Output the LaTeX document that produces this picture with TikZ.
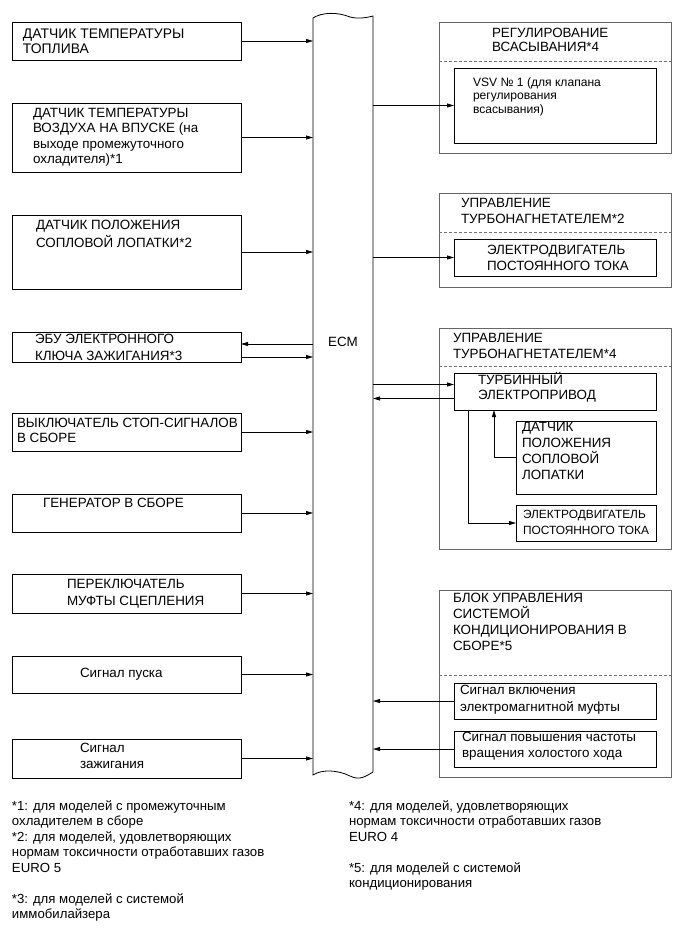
\documentclass[tikz,border=0pt]{standalone}
\usepackage{fontspec}
\setmainfont{Liberation Sans}
\newcommand\fstrut{\rule{0pt}{13pt}}
\usetikzlibrary{arrows.meta}
\begin{document}
\begin{tikzpicture}[x=1pt,y=-1pt,
  box/.style={draw, line width=0.8pt, inner sep=0, outer sep=0, anchor=north west},
  grp/.style={draw=black!60, line width=1pt, inner sep=0, outer sep=0, anchor=north west},
  txt/.style={inner sep=0, outer sep=0, anchor=north west, align=left,
     font=\fontsize{13.4}{15}\selectfont},
  ls/.style={font=\fontsize{13.4}{#1}\selectfont},
  arr/.style={line width=0.8pt, -{Triangle[length=7pt,width=4pt]}},
  sep/.style={draw=black!55, dash pattern=on 3pt off 2pt, line width=0.6pt},
]
\useasboundingbox (0,0) rectangle (691,951);

% ---- left boxes
\node[box, minimum width=229pt, minimum height=38pt] (b1) at (12,22) {};
\node[box, minimum width=229pt, minimum height=69pt] (b2) at (12,103) {};
\node[box, minimum width=229pt, minimum height=74pt] (b3) at (12,215) {};
\node[box, minimum width=229pt, minimum height=30pt] (b4) at (12,332) {};
\node[box, minimum width=229pt, minimum height=38pt] (b5) at (12,413) {};
\node[box, minimum width=229pt, minimum height=38pt] (b6) at (12,494) {};
\node[box, minimum width=229pt, minimum height=39pt] (b7) at (12,574) {};
\node[box, minimum width=229pt, minimum height=37pt] (b8) at (12,656) {};
\node[box, minimum width=229pt, minimum height=39pt] (b9) at (12,739) {};

\node[txt, font=\fontsize{13.9}{15}\selectfont] (t1) at (23,25) {\fstrut ДАТЧИК ТЕМПЕРАТУРЫ\\ТОПЛИВА};
\node[txt, ls=15.3] (t2) at (33,104.5) {\fstrut ДАТЧИК ТЕМПЕРАТУРЫ\\ВОЗДУХА НА ВПУСКЕ (на\\выходе промежуточного\\охладителя)*1};
\node[txt, ls=18] (t3) at (36,216) {\fstrut ДАТЧИК ПОЛОЖЕНИЯ\\СОПЛОВОЙ ЛОПАТКИ*2};
\node[txt, ls=17] (t4) at (35,330) {\fstrut ЭБУ ЭЛЕКТРОННОГО\\КЛЮЧА ЗАЖИГАНИЯ*3};
\node[txt, ls=15] (t5) at (17,414) {\fstrut ВЫКЛЮЧАТЕЛЬ СТОП-СИГНАЛОВ\\В СБОРЕ};
\node[txt] (t6) at (43,494) {\fstrut ГЕНЕРАТОР В СБОРЕ};
\node[txt, ls=17] (t7) at (67,575) {\fstrut ПЕРЕКЛЮЧАТЕЛЬ\\МУФТЫ СЦЕПЛЕНИЯ};
\node[txt] (t8) at (80,664) {\fstrut Сигнал пуска};
\node[txt, ls=16] (t9) at (80,739) {\fstrut Сигнал\\зажигания};

% ---- ECM
\node[inner sep=0, outer sep=0, anchor=north west, minimum width=60pt, minimum height=760pt] (ecm) at (313,16) {};
\draw[line width=0.8pt] (313,18) -- (313,775)
  .. controls (322,769) and (338,770) .. (350,776)
  .. controls (360,781) and (366,776) .. (373,772)
  -- (373,16)
  .. controls (366,18) and (358,19) .. (350,17)
  .. controls (338,12) and (322,12) .. (313,18) -- cycle;
\node[inner sep=0, anchor=base, font=\fontsize{13.4}{15}\selectfont] (ecml) at (343,346) {ECM};

% ---- right groups
\node[grp, minimum width=232pt, minimum height=131pt] (g1) at (439,22) {};
\node[grp, minimum width=232pt, minimum height=94pt] (g2) at (439,193) {};
\node[grp, minimum width=232pt, minimum height=221pt] (g3) at (439,328) {};
\node[grp, minimum width=232pt, minimum height=187pt] (g4) at (439,590) {};

\draw[sep] (g1.west |- 0,61) -- (g1.east |- 0,61);
\draw[sep] (g2.west |- 0,232) -- (g2.east |- 0,232);
\draw[sep] (g3.west |- 0,366) -- (g3.east |- 0,366);
\draw[sep] (g4.west |- 0,675) -- (g4.east |- 0,675);

\node[box, minimum width=202pt, minimum height=75pt] (g1i) at (454,68) {};
\node[box, minimum width=202pt, minimum height=37pt] (g2i) at (454,239) {};
\node[box, minimum width=202pt, minimum height=37pt] (g3a) at (454,373) {};
\node[box, minimum width=140pt, minimum height=73pt] (g3b) at (516,421) {};
\node[box, minimum width=140pt, minimum height=36pt] (g3c) at (516,505) {};
\node[box, minimum width=202pt, minimum height=36pt] (g4a) at (454,683) {};
\node[box, minimum width=202pt, minimum height=36pt] (g4b) at (454,731) {};

\node[txt, ls=14] (g1t) at (492,24) {\fstrut РЕГУЛИРОВАНИЕ\\ВСАСЫВАНИЯ*4};
\node[txt, font=\fontsize{12.1}{13.5}\selectfont] (g1it) at (473,73) {\fstrut VSV № 1 (для клапана\\регулирования\\всасывания)};
\node[txt, ls=16] (g2t) at (461,194) {\fstrut УПРАВЛЕНИЕ\\ТУРБОНАГНЕТАТЕЛЕМ*2};
\node[txt, ls=16.5] (g2it) at (487,241) {\fstrut ЭЛЕКТРОДВИГАТЕЛЬ\\ПОСТОЯННОГО ТОКА};
\node[txt, ls=16] (g3t) at (453,329) {\fstrut УПРАВЛЕНИЕ\\ТУРБОНАГНЕТАТЕЛЕМ*4};
\node[txt, ls=15] (g3at) at (478,371) {\fstrut ТУРБИННЫЙ\\ЭЛЕКТРОПРИВОД};
\node[txt, ls=16] (g3bt) at (522,418) {\fstrut ДАТЧИК\\ПОЛОЖЕНИЯ\\СОПЛОВОЙ\\ЛОПАТКИ};
\node[txt, font=\fontsize{11.9}{16}\selectfont] (g3ct) at (523,505) {\fstrut ЭЛЕКТРОДВИГАТЕЛЬ\\ПОСТОЯННОГО ТОКА};
\node[txt, ls=16] (g4t) at (453,589) {\fstrut БЛОК УПРАВЛЕНИЯ\\СИСТЕМОЙ\\КОНДИЦИОНИРОВАНИЯ В\\СБОРЕ*5};
\node[txt, ls=17] (g4at) at (460,681) {\fstrut Сигнал включения\\электромагнитной муфты};
\node[txt, ls=16] (g4bt) at (462,728) {\fstrut Сигнал повышения частоты\\вращения холостого хода};

% ---- connectors left
\draw[arr] (b1.east) -- (b1.east -| ecm.west);
\draw[arr] (b2.east) -- (b2.east -| ecm.west);
\draw[arr] (b3.east) -- (b3.east -| ecm.west);
\draw[arr] ([yshift=3pt]b4.east -| ecm.west) -- ([yshift=3pt]b4.east);
\draw[arr] ([yshift=-10pt]b4.east) -- ([yshift=-10pt]b4.east -| ecm.west);
\draw[arr] (b5.east) -- (b5.east -| ecm.west);
\draw[arr] (b6.east) -- (b6.east -| ecm.west);
\draw[arr] (b7.east) -- (b7.east -| ecm.west);
\draw[arr] (b8.east) -- (b8.east -| ecm.west);
\draw[arr] (b9.east) -- (b9.east -| ecm.west);

% ---- connectors right
\draw[arr] (g1i.west -| ecm.east) -- (g1i.west);
\draw[arr] (g2i.west -| ecm.east) -- (g2i.west);
\draw[arr] ([yshift=7pt]g3a.west -| ecm.east) -- ([yshift=7pt]g3a.west);
\draw[arr] ([yshift=-7pt]g3a.west) -- ([yshift=-7pt]g3a.west -| ecm.east);
\draw[arr] (g3b.west) -| ([xshift=40pt]g3a.south west);
\draw[arr] ([xshift=14pt]g3a.south west) |- (g3c.west);
\draw[arr] (g4a.west) -- (g4a.west -| ecm.east);
\draw[arr] (g4b.west) -- (g4b.west -| ecm.east);

% ---- footnotes
\node[txt, font=\fontsize{13.2}{15.5}\selectfont] (fn1) at (12,797) {\fstrut *1: для моделей с промежуточным\\охладителем в сборе\\*2: для моделей, удовлетворяющих\\нормам токсичности отработавших газов\\EURO 5\\[15.5pt]*3: для моделей с системой\\иммобилайзера};
\node[txt, font=\fontsize{13.2}{15.5}\selectfont] (fn2) at (349,797) {\fstrut *4: для моделей, удовлетворяющих\\нормам токсичности отработавших газов\\EURO 4\\[15.5pt]*5: для моделей с системой\\кондиционирования};
\end{tikzpicture}
\end{document}
